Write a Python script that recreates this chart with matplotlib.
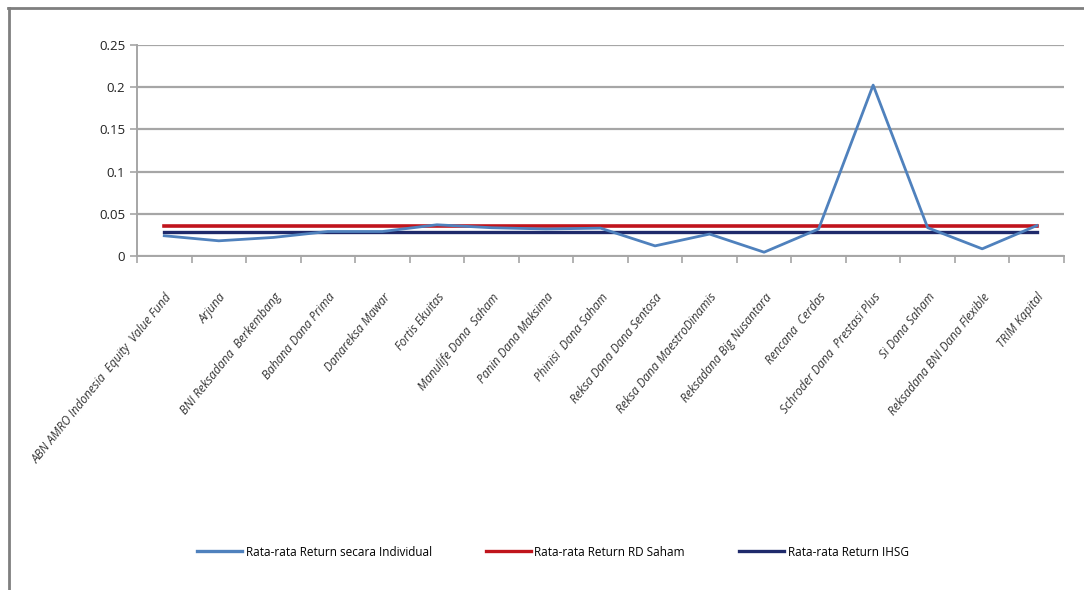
import matplotlib
matplotlib.use("Agg")
import matplotlib.pyplot as plt
from matplotlib.lines import Line2D

funds = [
    "ABN AMRO Indonesia  Equity  Value Fund",
    "Arjuna",
    "BNI Reksadana  Berkembang",
    "Bahana Dana Prima",
    "Danareksa Mawar",
    "Fortis Ekuitas",
    "Manulife Dana  Saham",
    "Panin Dana Maksima",
    "Phinisi  Dana Saham",
    "Reksa Dana Dana Sentosa",
    "Reksa Dana MaestroDinamis",
    "Reksadana Big Nusantara",
    "Rencana  Cerdas",
    "Schroder Dana  Prestasi Plus",
    "Si Dana Saham",
    "Reksadana BNI Dana Flexible",
    "TRIM Kapital",
]
individual_return = [0.024, 0.018, 0.022, 0.029, 0.029, 0.037, 0.0335, 0.032,
                     0.033, 0.012, 0.026, 0.0045, 0.032, 0.2025, 0.0335,
                     0.0085, 0.036]
rd_saham_return = 0.0355
ihsg_return = 0.028

series_labels = ["Rata-rata Return secara Individual",
                 "Rata-rata Return RD Saham",
                 "Rata-rata Return IHSG"]
yticks = [0, 0.05, 0.1, 0.15, 0.2, 0.25]
ytick_labels = ["0", "0.05", "0.1", "0.15", "0.2", "0.25"]

c_ind = "#4F81BD"
c_rd = "#C0141C"
c_ihsg = "#1F2A6B"

plt.rcParams["font.family"] = ["Open Sans", "DejaVu Sans"]

fig = plt.figure(figsize=(10.84, 5.90), dpi=100)
W, H = 1084, 590
ax = fig.add_axes([137 / W, 1 - 256 / H, (1064 - 137) / W, (256 - 45) / H])

x = list(range(len(funds)))
ax.plot(x, individual_return, color=c_ind, lw=2, zorder=3)
ax.plot([x[0], x[-1]], [rd_saham_return] * 2, color=c_rd, lw=2.6, zorder=2)
ax.plot([x[0], x[-1]], [ihsg_return] * 2, color=c_ihsg, lw=2.4, zorder=2)

ax.set_xlim(-0.5, len(funds) - 0.5)
ax.set_ylim(0, 0.25)
ax.set_yticks(yticks)
ax.set_yticklabels(ytick_labels, fontsize=9.5, color="#222222")
ax.yaxis.grid(True, color="#A6A6A6", lw=1.6)
ax.set_axisbelow(True)

# category ticks sit between the points
ax.set_xticks([i - 0.5 for i in range(len(funds) + 1)], minor=False)
ax.set_xticklabels([])
ax.set_xticks(x, minor=True)
ax.set_xticklabels(funds, minor=True, rotation=51, ha="right",
                   rotation_mode="anchor", fontsize=8.6, style="italic",
                   color="#333333")
ax.tick_params(axis="x", which="minor", length=0, pad=25)
ax.tick_params(axis="x", which="major", length=5, color="#A6A6A6", width=1.2)
ax.tick_params(axis="y", length=5, color="#A6A6A6", width=1.2)

for side in ["top", "right"]:
    ax.spines[side].set_visible(False)
ax.spines["left"].set_color("#A6A6A6")
ax.spines["bottom"].set_color("#A6A6A6")
ax.spines["left"].set_linewidth(1.4)
ax.spines["bottom"].set_linewidth(1.4)

handles = [Line2D([], [], color=c_ind, lw=2.4),
           Line2D([], [], color=c_rd, lw=2.4),
           Line2D([], [], color=c_ihsg, lw=2.4)]
fig.legend(handles, series_labels, loc="center", ncol=3,
           bbox_to_anchor=(553 / W, 1 - 552 / H), frameon=False,
           fontsize=8.5, handlelength=3.8, columnspacing=4.6,
           handletextpad=0.3)

# chart frame (top and left edges)
fig.add_artist(Line2D([8 / W, 1.0], [1 - 8 / H, 1 - 8 / H], color="#7F7F7F",
                      lw=2, transform=fig.transFigure))
fig.add_artist(Line2D([9 / W, 9 / W], [0.0, 1 - 8 / H], color="#7F7F7F",
                      lw=2, transform=fig.transFigure))

fig.savefig("out.png", dpi=100)
